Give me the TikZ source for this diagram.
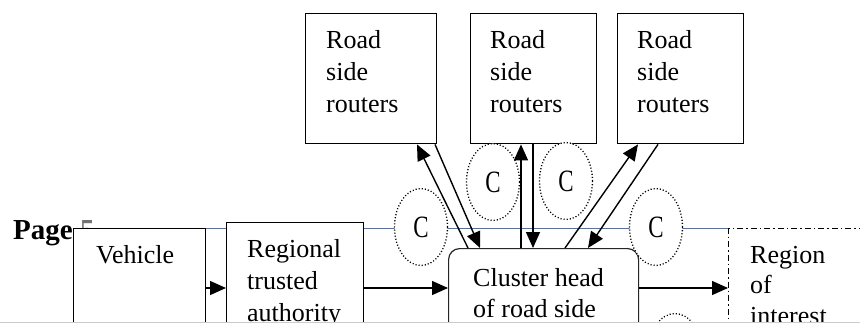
\documentclass[tikz,border=0pt]{standalone}
\usepackage{fontspec}
\setmainfont{Liberation Serif}
\usetikzlibrary{arrows.meta,calc,shapes.geometric}
\definecolor{hdrblue}{RGB}{68,114,196}
\begin{document}
\begin{tikzpicture}[x=1pt,y=-1pt,
  rbox/.style={draw,line width=1.4pt,fill=white,inner sep=0pt,anchor=north west,minimum width=#1},
  txt/.style={anchor=base west,inner sep=0pt,font=\fontsize{26}{31}\selectfont},
  cell/.style={ellipse,draw,dash pattern=on 1.1pt off 2pt,line width=1.3pt,fill=white,inner sep=0pt,
    minimum width=53pt,minimum height=77pt,font=\fontsize{31}{31}\selectfont},
  arr/.style={line width=1.4pt,-{Triangle[length=16pt,width=14pt]}}
]
\useasboundingbox (0,0) rectangle (860,324);
\clip (0,0) rectangle (860,324);
\fill[white] (0,0) rectangle (860,324);
% header line and page number
\coordinate (hl) at (73,228);
\coordinate (hr) at (728,228);
\draw[hdrblue,line width=0.9pt] (hl) -- (hr);
\node[anchor=base west,inner sep=0pt,font=\fontsize{29}{29}\selectfont\bfseries] (page) at (13,239) {Page \textcolor{black!55}{5}};
% boxes
\node[rbox=131pt,minimum height=130pt] (r1) at (305,13) {};
\node[rbox=126pt,minimum height=130pt] (r2) at (470,13) {};
\node[rbox=126pt,minimum height=130pt] (r3) at (617,13) {};
\node[rbox=132pt,minimum height=140pt] (veh) at (73,228) {};
\node[rbox=137pt,minimum height=140pt] (rta) at (226,222) {};
\node[rbox=190pt,minimum height=140pt,rounded corners=11pt,line width=1.2pt,draw=black!85] (ch) at (448,248) {};
\node[rbox=160pt,minimum height=140pt,dash pattern=on 6pt off 3pt on 1.5pt off 3pt,line width=1.3pt] (roi) at (728,228) {};
% texts
\node[txt] (r1a) at (326,48) {Road};
\node[txt] (r1b) at (326,80) {side};
\node[txt] (r1c) at (326,112) {routers};
\node[txt] (r2a) at (490,48) {Road};
\node[txt] (r2b) at (490,80) {side};
\node[txt] (r2c) at (490,112) {routers};
\node[txt] (r3a) at (637,48) {Road};
\node[txt] (r3b) at (637,80) {side};
\node[txt] (r3c) at (637,112) {routers};
\node[txt] (vt) at (96,263) {Vehicle};
\node[txt] (ta) at (247,257) {Regional};
\node[txt] (tb) at (247,289) {trusted};
\node[txt] (tc) at (247,321) {authority};
\node[txt] (ca) at (473,286) {Cluster head};
\node[txt] (cb) at (473,317) {of road side};
\node[txt] (ga) at (750,263) {Region};
\node[txt] (gb) at (750,293) {of};
\node[txt] (gc) at (750,324) {interest};
% clusters
\node[cell] (c1) at (421,227) {\scalebox{0.74}[1]{C}};
\node[cell] (c2) at (493,182) {\scalebox{0.74}[1]{C}};
\node[cell] (c3) at (566,181) {\scalebox{0.74}[1]{C}};
\node[cell] (c4) at (656,227) {\scalebox{0.74}[1]{C}};
\node[cell] (c5) at (675,352) {};
% connectors
\coordinate (h) at (0,288);
\draw[arr] (veh.east |- h) -- (rta.west |- h);
\draw[arr] (rta.east |- h) -- (ch.west |- h);
\draw[arr] (ch.east |- h) -- (roi.west |- h);
\draw[arr] ([xshift=20pt]ch.north west) -- ([xshift=112pt]r1.south west);
\draw[arr] ([xshift=130pt]r1.south west) -- ([xshift=32pt]ch.north west);
\draw[arr] ([xshift=73pt]ch.north west) -- ([xshift=51pt]r2.south west);
\draw[arr] ([xshift=63pt]r2.south west) -- ([xshift=85pt]ch.north west);
\draw[arr] ([xshift=117pt]ch.north west) -- ([xshift=21pt]r3.south west);
\draw[arr] ([xshift=41pt]r3.south west) -- ([xshift=140pt]ch.north west);
% bottom edge of the page crop
\fill[white] (0,323) rectangle (860,324);
\draw[gray!40,line width=1.2pt] (0,322.4) -- (860,322.4);
\end{tikzpicture}
\end{document}
